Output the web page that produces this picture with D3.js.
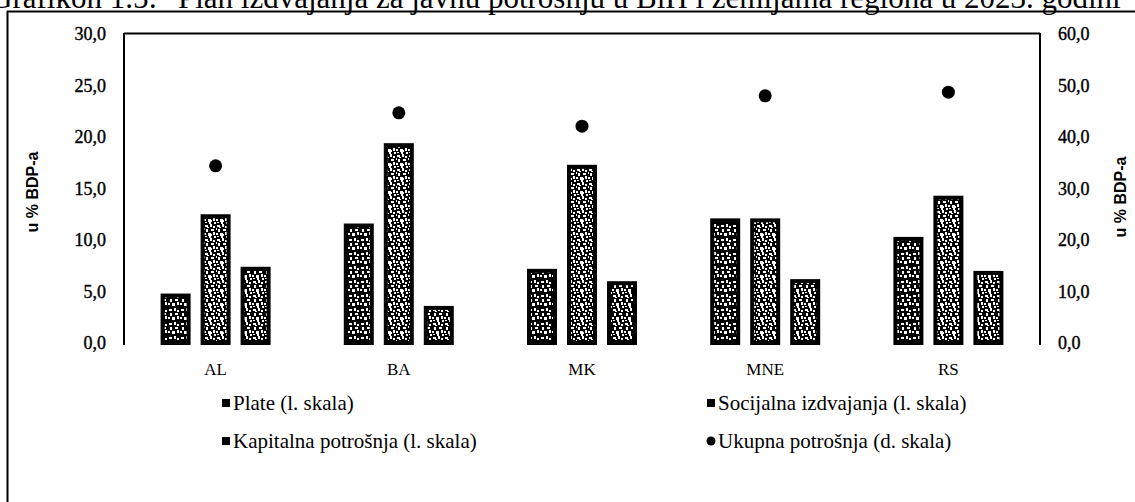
<!DOCTYPE html>
<html><head><meta charset="utf-8">
<script src="https://cdn.jsdelivr.net/npm/d3@7"></script>
<style>html,body{margin:0;padding:0;background:#fff;}svg{display:block;}</style>
</head><body>
<svg id="c" width="1135" height="502"></svg>
<script>
const categories = ["AL", "BA", "MK", "MNE", "RS"];
const plate = [4.8, 11.6, 7.2, 12.1, 10.3];
const socijalna = [12.5, 19.4, 17.3, 12.1, 14.3];
const kapitalna = [7.4, 3.6, 6.0, 6.2, 7.0];
const ukupna = [34.4, 44.7, 42.1, 48.0, 48.7];
const leftTicks = [0, 5, 10, 15, 20, 25, 30];
const rightTicks = [0, 10, 20, 30, 40, 50, 60];
const seriesNames = ["Plate (l. skala)", "Socijalna izdvajanja (l. skala)", "Kapitalna potrošnja (l. skala)", "Ukupna potrošnja (d. skala)"];
const titleParts = ["Grafikon 1.5:", "Plan izdvajanja za javnu potrošnju u BiH i zemljama regiona u 2023. godini"];

const svg = d3.select("#c");
const serif = "Liberation Serif, Times New Roman, serif";
const sans = "Liberation Sans, Arial, sans-serif";

// textures
const defs = svg.append("defs");
function texture(id, density) {
  const p = defs.append("pattern").attr("id", id).attr("patternUnits", "userSpaceOnUse")
    .attr("width", 12).attr("height", 14);
  p.append("rect").attr("width", 12).attr("height", 14).attr("fill", "#000");
  const cells = [[1,1,3,2],[6,0,2,3],[9,2,2,2],[2,5,2,3],[7,5,3,2],[0,9,2,2],[4,9,3,3],[9,8,2,3],[5,12,2,2],[1,12,2,1],[10,12,2,2],[3,3,2,1],[7,10,1,2],[0,4,1,2]];
  cells.slice(0, density).forEach(c => p.append("rect").attr("x", c[0]).attr("y", c[1]).attr("width", c[2]).attr("height", c[3]).attr("fill", "#fff"));
}
texture("t0", 8);
texture("t1", 14);
texture("t2", 12);

// frame / title
svg.append("text").attr("x", -10).attr("y", 8).style("font-family", serif).style("font-size", "31px")
  .attr("fill", "#000").text(titleParts[0]);
svg.append("text").attr("x", 178).attr("y", 8).style("font-family", serif).style("font-size", "31px")
  .attr("fill", "#000").text(titleParts[1]);
svg.append("line").attr("x1", 7).attr("x2", 1135).attr("y1", 11.5).attr("y2", 11.5).attr("stroke", "#000").attr("stroke-width", 2);
svg.append("line").attr("x1", 7.5).attr("x2", 7.5).attr("y1", 11).attr("y2", 502).attr("stroke", "#000").attr("stroke-width", 2);

const x0 = d3.scaleBand().domain(categories).range([124, 1040]);
const x1 = d3.scaleBand().domain([0, 1, 2]).range([0, 110]).paddingInner(0.25);
const yL = d3.scaleLinear().domain([0, 30]).range([343, 34]);
const yR = d3.scaleLinear().domain([0, 60]).range([343, 34]);

svg.append("line").attr("x1", 124).attr("x2", 1040).attr("y1", 33.5).attr("y2", 33.5).attr("stroke", "#000").attr("stroke-width", 2);

const fmt = d => d3.format(".1f")(d).replace(".", ",");
const axL = svg.append("g").attr("transform", "translate(124,0)")
  .call(d3.axisLeft(yL).tickValues(leftTicks).tickSize(0).tickPadding(18).tickFormat(fmt));
axL.select(".domain").attr("stroke-width", 2).attr("d", "M0,33V345");
axL.selectAll("text").style("font-family", serif).style("font-size", "18px").attr("fill", "#000")
  .attr("stroke", "#000").attr("stroke-width", 0.4);

const axR = svg.append("g").attr("transform", "translate(1040,0)")
  .call(d3.axisRight(yR).tickValues(rightTicks).tickSize(0).tickPadding(18).tickFormat(fmt));
axR.select(".domain").attr("stroke-width", 2).attr("d", "M0,33V345");
axR.selectAll("text").style("font-family", serif).style("font-size", "18px").attr("fill", "#000")
  .attr("stroke", "#000").attr("stroke-width", 0.4);

const axB = svg.append("g").attr("transform", "translate(0,343)")
  .call(d3.axisBottom(x0).tickSize(0).tickPadding(20));
axB.select(".domain").remove();
axB.selectAll("text").style("font-family", serif).style("font-size", "17px").attr("fill", "#000");

// axis titles
svg.append("text").attr("transform", "translate(38,192) rotate(-90)").attr("text-anchor", "middle")
  .style("font-family", sans).style("font-size", "16px").style("font-weight", "bold").attr("fill", "#000").text("u % BDP-a");
svg.append("text").attr("transform", "translate(1126,197) rotate(-90)").attr("text-anchor", "middle")
  .style("font-family", sans).style("font-size", "16px").style("font-weight", "bold").attr("fill", "#000").text("u % BDP-a");

// bars
const series = [plate, socijalna, kapitalna];
const bars = svg.append("g");
series.forEach((vals, si) => {
  bars.selectAll(null).data(vals).join("rect")
    .attr("x", (d, i) => x0(categories[i]) + x0.bandwidth() / 2 - 55 + x1(si) + 2)
    .attr("y", d => yL(d) + 2)
    .attr("width", x1.bandwidth() - 4)
    .attr("height", d => yL(0) - yL(d) - 2)
    .attr("fill", `url(#t${si})`)
    .attr("stroke", "#000").attr("stroke-width", 4);
});

// dots
svg.append("g").selectAll("circle").data(ukupna).join("circle")
  .attr("cx", (d, i) => x0(categories[i]) + x0.bandwidth() / 2)
  .attr("cy", d => yR(d))
  .attr("r", 6.5).attr("fill", "#000");

// legend
const legPos = [[226, 403], [711, 403], [226, 441], [711, 441]];
const leg = svg.append("g");
seriesNames.forEach((name, i) => {
  const [lx, ly] = legPos[i];
  if (i < 3) {
    leg.append("rect").attr("x", lx - 4).attr("y", ly - 4).attr("width", 8).attr("height", 8)
      .attr("fill", "#000");
  } else {
    leg.append("circle").attr("cx", lx).attr("cy", ly).attr("r", 4.5).attr("fill", "#000");
  }
  leg.append("text").attr("x", lx + 7).attr("y", ly + 7).style("font-family", serif)
    .style("font-size", "21px").attr("fill", "#000").text(name);
});
</script>
</body></html>
